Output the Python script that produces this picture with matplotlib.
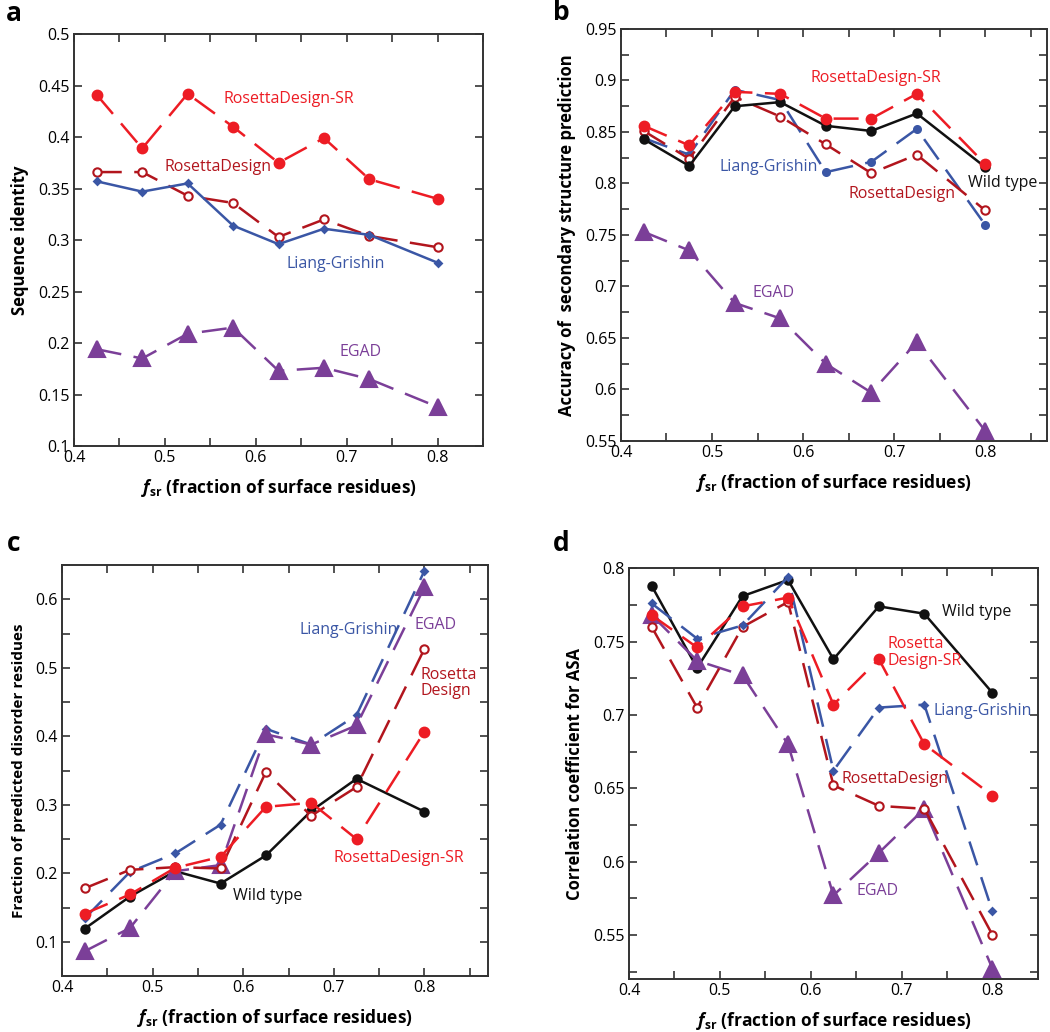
import numpy as np
import matplotlib
matplotlib.use('Agg')
import matplotlib.pyplot as plt
from matplotlib.ticker import MultipleLocator, FuncFormatter

plt.rcParams['font.family'] = ['Open Sans', 'DejaVu Sans']
plt.rcParams['mathtext.fontset'] = 'custom'
plt.rcParams['mathtext.it'] = 'Open Sans:italic:bold'
plt.rcParams['mathtext.bf'] = 'Open Sans:bold'
plt.rcParams['mathtext.rm'] = 'Open Sans'

fsr = [0.425, 0.475, 0.525, 0.575, 0.625, 0.675, 0.725, 0.8]

# panel a: sequence identity
a_sr = [0.441, 0.389, 0.442, 0.410, 0.375, 0.399, 0.359, 0.340]
a_rd = [0.366, 0.366, 0.343, 0.336, 0.303, 0.320, 0.304, 0.293]
a_lg = [0.357, 0.347, 0.355, 0.314, 0.296, 0.311, 0.305, 0.278]
a_egad = [0.194, 0.185, 0.209, 0.215, 0.173, 0.176, 0.165, 0.138]

# panel b: secondary structure accuracy
b_wt = [0.843, 0.817, 0.875, 0.879, 0.856, 0.851, 0.868, 0.816]
b_sr = [0.856, 0.837, 0.889, 0.887, 0.863, 0.863, 0.887, 0.819]
b_rd = [0.851, 0.824, 0.884, 0.865, 0.838, 0.810, 0.828, 0.774]
b_lg = [0.844, 0.828, 0.891, 0.881, 0.811, 0.821, 0.853, 0.760]
b_egad = [0.753, 0.735, 0.684, 0.669, 0.625, 0.597, 0.646, 0.560]

# panel c: predicted disorder
c_wt = [0.119, 0.166, 0.203, 0.185, 0.226, 0.291, 0.338, 0.290]
c_sr = [0.141, 0.169, 0.208, 0.224, 0.297, 0.303, 0.250, 0.407]
c_rd = [0.178, 0.205, 0.209, 0.207, 0.348, 0.284, 0.326, 0.528]
c_lg = [0.134, 0.202, 0.229, 0.271, 0.411, 0.388, 0.431, 0.642]
c_egad = [0.086, 0.120, 0.203, 0.212, 0.403, 0.388, 0.416, 0.618]

# panel d: ASA correlation
d_wt = [0.788, 0.732, 0.781, 0.792, 0.738, 0.774, 0.769, 0.715]
d_sr = [0.768, 0.746, 0.774, 0.780, 0.707, 0.738, 0.680, 0.645]
d_rd = [0.760, 0.705, 0.760, 0.777, 0.652, 0.638, 0.636, 0.550]
d_lg = [0.776, 0.752, 0.761, 0.794, 0.662, 0.705, 0.707, 0.566]
d_egad = [0.768, 0.737, 0.727, 0.680, 0.577, 0.606, 0.636, 0.527]

RED = '#ed1c24'
DRED = '#b2151d'
BLUE = '#3a56a5'
PURPLE = '#7b3f98'
BLACK = '#111111'
DASH = (10, 5)
FS = 11.5    # tick and series label size
LFS = 12.5   # axis label size

def fmt(v, pos):
    return '{:g}'.format(round(v, 3))

def style_axes(ax, xlim, ylim, ymaj, ymin, ylabel, yfs=12):
    ax.set_xlim(*xlim)
    ax.set_ylim(*ylim)
    ax.xaxis.set_major_locator(MultipleLocator(0.1))
    ax.xaxis.set_minor_locator(MultipleLocator(0.05))
    ax.yaxis.set_major_locator(MultipleLocator(ymaj))
    ax.yaxis.set_minor_locator(MultipleLocator(ymin))
    ax.xaxis.set_major_formatter(FuncFormatter(fmt))
    ax.yaxis.set_major_formatter(FuncFormatter(fmt))
    ax.tick_params(which='both', direction='in', top=True, right=True,
                   length=6, width=1.2, color='#333333', labelsize=FS, pad=3)
    for s in ax.spines.values():
        s.set_linewidth(1.4)
        s.set_color('#333333')
    ax.set_xlabel(r'$f_{\mathbf{sr}}$ (fraction of surface residues)', fontsize=LFS,
                  fontweight='bold', labelpad=8)
    ax.set_ylabel(ylabel, fontsize=yfs, fontweight='bold', labelpad=7)

def line(ax, y, color, marker, dashed=True, ms=6, mfc=None, mew=1.5, z=2):
    kw = dict(color=color, lw=1.8, marker=marker, ms=ms, mec=color,
              mfc=mfc if mfc else color, mew=mew, zorder=z)
    if dashed:
        ax.plot(fsr, y, dashes=DASH, **kw)
    else:
        ax.plot(fsr, y, **kw)

def label(ax, x, y, s, color):
    ax.text(x, y, s, color=color, fontsize=FS, va='center', linespacing=1.05)

fig = plt.figure(figsize=(10.5, 10.32), dpi=100)

# a
ax = fig.add_axes([0.0705, 0.5678, 0.3895, 0.3992])
line(ax, a_sr, RED, 'o', ms=7)
line(ax, a_rd, DRED, 'o', ms=6, mfc='white')
line(ax, a_lg, BLUE, 'D', dashed=False, ms=3.5)
line(ax, a_egad, PURPLE, '^', ms=11)
style_axes(ax, (0.4, 0.85), (0.1, 0.5), 0.05, 0.05, 'Sequence identity')
label(ax, 0.565, 0.437, 'RosettaDesign-SR', RED)
label(ax, 0.50, 0.371, 'RosettaDesign', DRED)
label(ax, 0.634, 0.277, 'Liang-Grishin', BLUE)
label(ax, 0.692, 0.191, 'EGAD', PURPLE)

# b
ax = fig.add_axes([0.5914, 0.5727, 0.4057, 0.3992])
line(ax, b_egad, PURPLE, '^', ms=11)
line(ax, b_lg, BLUE, 'o', ms=5)
line(ax, b_rd, DRED, 'o', ms=6, mfc='white')
line(ax, b_wt, BLACK, 'o', dashed=False, ms=6)
line(ax, b_sr, RED, 'o', ms=7, z=3)
style_axes(ax, (0.4, 0.868), (0.55, 0.95), 0.05, 0.025,
           'Accuracy of  secondary structure prediction')
label(ax, 0.608, 0.902, 'RosettaDesign-SR', RED)
label(ax, 0.508, 0.816, 'Liang-Grishin', BLUE)
label(ax, 0.781, 0.800, 'Wild type', BLACK)
label(ax, 0.650, 0.790, 'RosettaDesign', DRED)
label(ax, 0.544, 0.694, 'EGAD', PURPLE)

# c
ax = fig.add_axes([0.059, 0.0543, 0.4057, 0.398])
line(ax, c_wt, BLACK, 'o', dashed=False, ms=6)
line(ax, c_lg, BLUE, 'D', ms=3.5)
line(ax, c_egad, PURPLE, '^', ms=11)
line(ax, c_rd, DRED, 'o', ms=6, mfc='white')
line(ax, c_sr, RED, 'o', ms=7)
style_axes(ax, (0.4, 0.87), (0.05, 0.65), 0.1, 0.05,
           'Fraction of predicted disorder residues', yfs=11)
label(ax, 0.662, 0.555, 'Liang-Grishin', BLUE)
label(ax, 0.789, 0.563, 'EGAD', PURPLE)
label(ax, 0.796, 0.478, 'Rosetta\nDesign', DRED)
label(ax, 0.700, 0.2226, 'RosettaDesign-SR', RED)
label(ax, 0.589, 0.167, 'Wild type', BLACK)

# d
ax = fig.add_axes([0.599, 0.0514, 0.3895, 0.398])
line(ax, d_wt, BLACK, 'o', dashed=False, ms=6)
line(ax, d_egad, PURPLE, '^', ms=11)
line(ax, d_rd, DRED, 'o', ms=6, mfc='white')
line(ax, d_lg, BLUE, 'D', ms=3.5)
line(ax, d_sr, RED, 'o', ms=7)
style_axes(ax, (0.4, 0.85), (0.52, 0.8), 0.05, 0.025,
           'Correlation coefficient for ASA')
label(ax, 0.744, 0.770, 'Wild type', BLACK)
label(ax, 0.685, 0.7425, 'Rosetta\nDesign-SR', RED)
label(ax, 0.735, 0.703, 'Liang-Grishin', BLUE)
label(ax, 0.634, 0.656, 'RosettaDesign', DRED)
label(ax, 0.650, 0.580, 'EGAD', PURPLE)

# panel letters
for x, y, s in [(0.0057, 0.9797, 'a'), (0.5267, 0.9806, 'b'),
                (0.0067, 0.4661, 'c'), (0.5267, 0.4661, 'd')]:
    fig.text(x, y, s, fontsize=19, fontweight='bold', va='baseline', ha='left')

fig.savefig('out.png', dpi=100)
